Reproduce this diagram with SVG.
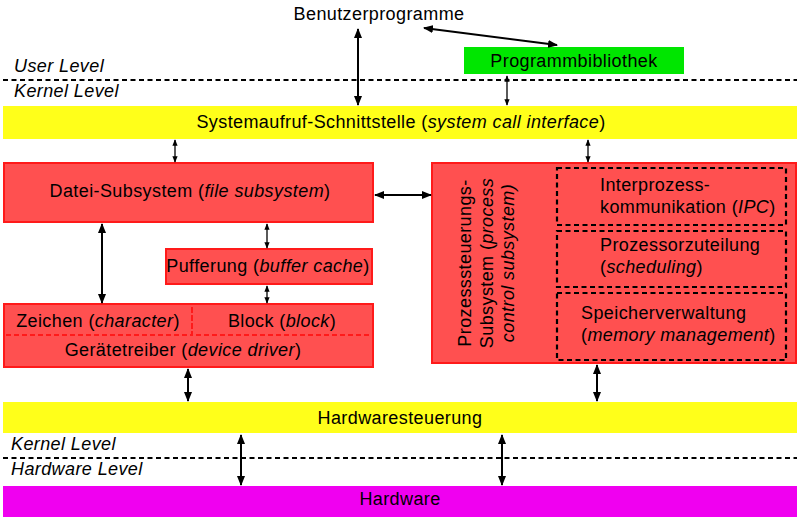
<svg xmlns="http://www.w3.org/2000/svg" width="803" height="520" viewBox="0 0 803 520">
<style>
text{font-family:"Liberation Sans",Arial,sans-serif;font-size:18px;letter-spacing:0.4px;fill:#000}
.c{text-anchor:middle}
.i{font-style:italic}
.lvl{font-style:italic}
.red{fill:#ff5050;stroke:#ff1a1a;stroke-width:2}
.yel{fill:#ffff1a}
.dash{stroke:#000;stroke-width:2.2;stroke-dasharray:5,3.5;fill:none}
.rdash{stroke:#ff1a1a;stroke-width:2;stroke-dasharray:5,3;fill:none}
.a{stroke:#000;stroke-width:2;fill:none;marker-start:url(#h);marker-end:url(#h)}
.s{stroke:#000;stroke-width:1.3;fill:none;marker-start:url(#hs);marker-end:url(#hs)}
</style>
<defs>
<marker id="h" viewBox="0 0 10 8" refX="9" refY="4" markerWidth="5" markerHeight="4" orient="auto-start-reverse" markerUnits="strokeWidth"><path d="M0,0 L10,4 L0,8 Z" fill="#000"/></marker>
<marker id="hs" viewBox="0 0 10 8" refX="9" refY="4" markerWidth="5" markerHeight="4.5" orient="auto-start-reverse" markerUnits="strokeWidth"><path d="M0,0 L10,4 L0,8 Z" fill="#000"/></marker>
</defs>
<rect width="803" height="520" fill="#fff"/>
<g id="levels">
<line class="dash" x1="3" y1="80" x2="797" y2="80"/>
<text class="lvl" x="14" y="72">User Level</text>
<text class="lvl" x="14" y="97">Kernel Level</text>
<line class="dash" x1="3" y1="458" x2="797" y2="458"/>
<text class="lvl" x="11" y="450">Kernel Level</text>
<text class="lvl" x="11" y="475">Hardware Level</text>
</g>
<g id="benutzer"><text class="c" x="379" y="20">Benutzerprogramme</text></g>
<g id="bibliothek"><rect x="464" y="47" width="220" height="27" fill="#00e600"/><text class="c" x="574" y="67">Programmbibliothek</text></g>
<g id="syscall"><rect class="yel" x="3" y="106" width="794" height="33"/><text class="c" x="401" y="128">Systemaufruf-Schnittstelle (<tspan class="i">system call interface</tspan>)</text></g>
<g id="datei"><rect class="red" x="4" y="163" width="369" height="59"/><text class="c" x="190" y="197">Datei-Subsystem (<tspan class="i">file subsystem</tspan>)</text></g>
<g id="puffer"><rect class="red" x="166" y="249" width="206" height="35"/><text class="c" x="268" y="272">Pufferung (<tspan class="i">buffer cache</tspan>)</text></g>
<g id="treiber"><rect class="red" x="4" y="304" width="369" height="63"/>
<rect class="rdash" x="4" y="304" width="188" height="31"/><rect class="rdash" x="192" y="304" width="181" height="31"/>
<text class="c" x="98" y="327">Zeichen (<tspan class="i">character</tspan>)</text>
<text class="c" x="282" y="327">Block (<tspan class="i">block</tspan>)</text>
<text class="c" x="183" y="356">Gerätetreiber (<tspan class="i">device driver</tspan>)</text></g>
<g id="prozess"><rect class="red" x="432" y="163" width="364" height="200"/>
<g transform="translate(487,263) rotate(-90)">
<text class="c" x="0" y="-16">Prozesssteuerungs-</text>
<text class="c" x="0" y="6">Subsystem (<tspan class="i">process</tspan></text>
<text class="c i" x="0" y="27">control subsystem)</text>
</g>
<rect class="dash" x="557" y="168" width="229" height="57"/>
<rect class="dash" x="557" y="231" width="229" height="56"/>
<rect class="dash" x="557" y="293" width="229" height="67"/>
<text x="600" y="191">Interprozess-</text>
<text x="600" y="213">kommunikation (<tspan class="i">IPC</tspan>)</text>
<text x="600" y="251">Prozessorzuteilung</text>
<text x="600" y="273">(<tspan class="i">scheduling</tspan>)</text>
<text x="581" y="319">Speicherverwaltung</text>
<text x="581" y="341">(<tspan class="i">memory management</tspan>)</text>
</g>
<g id="hwsteuer"><rect class="yel" x="3" y="402" width="794" height="31"/><text class="c" x="400" y="424">Hardwaresteuerung</text></g>
<g id="hardware"><rect x="3" y="486" width="794" height="31" fill="#f000f0"/><text class="c" x="400" y="505">Hardware</text></g>
<g id="connectors">
<line class="a" x1="358" y1="29" x2="358" y2="105"/>
<line class="a" x1="424" y1="28" x2="557" y2="45"/>
<line class="s" x1="507" y1="76" x2="507" y2="105"/>
<line class="s" x1="175" y1="140" x2="175" y2="162"/>
<line class="s" x1="588" y1="140" x2="588" y2="162"/>
<line class="a" x1="375" y1="195" x2="431" y2="195"/>
<line class="a" x1="102" y1="224" x2="102" y2="303"/>
<line class="s" x1="267" y1="224" x2="267" y2="248"/>
<line class="s" x1="267" y1="286" x2="267" y2="303"/>
<line class="a" x1="188" y1="369" x2="188" y2="401"/>
<line class="a" x1="597" y1="365" x2="597" y2="401"/>
<line class="a" x1="241" y1="435" x2="241" y2="485"/>
<line class="a" x1="502" y1="435" x2="502" y2="485"/>
</g>
</svg>
